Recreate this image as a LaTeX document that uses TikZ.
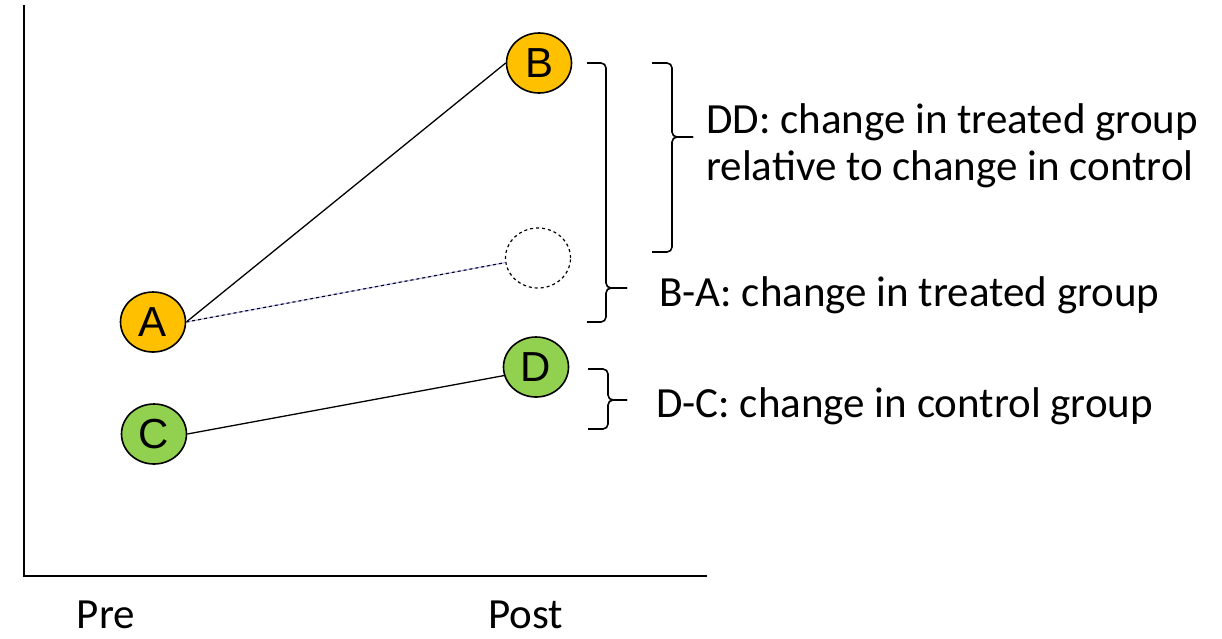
\documentclass[tikz,border=0pt]{standalone}
\usepackage{fontspec}
\setmainfont{Carlito}
\newfontfamily\arialfont{Liberation Sans}
\usetikzlibrary{shapes.geometric}
\definecolor{treatorange}{HTML}{FFC000}
\definecolor{ctrlgreen}{HTML}{92D050}
\begin{document}
\begin{tikzpicture}[x=1pt,y=-1pt,
  pt/.style={ellipse,draw=black,line width=1.6pt,minimum width=65pt,minimum height=60pt,inner sep=0pt,font=\arialfont\fontsize{42}{42}\selectfont},
  lbl/.style={anchor=base west,font=\fontsize{43}{47}\selectfont,inner sep=0pt},
  axlbl/.style={anchor=base,font=\fontsize{43}{47}\selectfont,inner sep=0pt},
  brk/.style={line width=1.6pt,rounded corners=5pt},
  conn/.style={line width=1.3pt}]
\useasboundingbox (0,0) rectangle (1222,638);
% axes
\coordinate (top) at (24,5);
\coordinate (orig) at (24,576);
\coordinate (right) at (707,576);
\draw[line width=1.3pt] (top) -- (orig) -- (right);
% points
\node[pt,fill=treatorange] (B) at (539,63) {B};
\node[pt,fill=treatorange] (A) at (153,322) {A};
\node[pt,dashed,line width=1.2pt] (X) at (538,258) {};
\node[pt,fill=ctrlgreen] (D) at (536,367) {D};
\node[pt,fill=ctrlgreen] (C) at (154,434) {C};
% connectors
\draw[conn] (A.east) -- (B.west);
\draw[line width=1.3pt,blue!25] (A.east) -- (X.188);
\draw[line width=1.1pt,dashed] (A.east) -- (X.188);
\draw[conn] (C.east) -- (D.195);
% braces
\draw[brk] (587,63) -| (606,288) -- (627,288);
\draw[brk] (627,288) -- (606,288) |- (587,322);
\draw[brk] (652,63) -| (672,137) -- (693,137);
\draw[brk] (693,137) -- (672,137) |- (652,252);
\draw[brk] (588,369) -| (608,400) -- (627,400);
\draw[brk] (627,400) -- (608,400) |- (588,429);
% labels
\node[lbl] (dd1) at (706,133) {DD: change in treated group};
\node[lbl] (dd2) at (706,180) {relative to change in control};
\node[lbl] (ba) at (659,306) {B-A: change in treated group};
\node[lbl] (dc) at (656,417) {D-C: change in control group};
\node[axlbl] (pre) at (106,628) {Pre};
\node[axlbl] (post) at (526,628) {Post};
\end{tikzpicture}
\end{document}
